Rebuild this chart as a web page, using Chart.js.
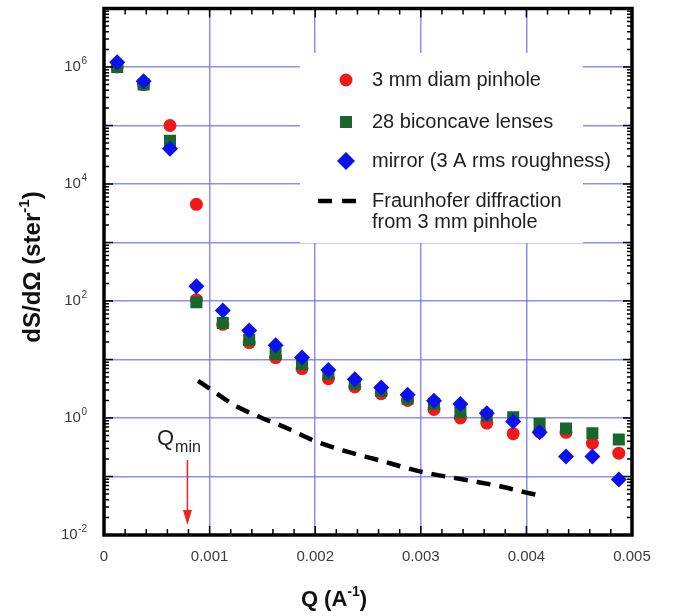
<!DOCTYPE html>
<html>
<head>
<meta charset="utf-8">
<script src="https://cdn.jsdelivr.net/npm/chart.js@4/dist/chart.umd.min.js"></script>
<style>
  html, body { margin: 0; padding: 0; background: #fff; }
  #wrap { width: 675px; height: 616px; }
</style>
</head>
<body>
<div id="wrap"><canvas id="chart" width="675" height="616"></canvas></div>
<script>
// Q positions of the measured points (A^-1)
const qPoints = [0.000125, 0.000375, 0.000625, 0.000875, 0.001125, 0.001375, 0.001625, 0.001875,
  0.002125, 0.002375, 0.002625, 0.002875, 0.003125, 0.003375, 0.003625, 0.003875,
  0.004125, 0.004375, 0.004625, 0.004875];

// pinhole has one extra point at Q = 0.000875
const pinholeQ = [0.000125, 0.000375, 0.000625, 0.000875, 0.000875, 0.001125, 0.001375, 0.001625,
  0.001875, 0.002125, 0.002375, 0.002625, 0.002875, 0.003125, 0.003375, 0.003625,
  0.003875, 0.004125, 0.004375, 0.004625, 0.004875];
const pinhole = [1.0e6, 5.0e5, 1.0e5, 4.5e3, 105, 40, 19.5, 10.8, 7.0, 4.7, 3.4, 2.6, 2.0, 1.4,
  1.0, 0.82, 0.54, 0.58, 0.57, 0.37, 0.25];

const lenses = [1.0e6, 5.0e5, 5.5e4, 95, 42, 21.5, 12.4, 8.4, 5.7, 3.85, 2.9, 2.14, 1.76, 1.25,
  1.1, 1.03, 0.8, 0.66, 0.55, 0.43];

const mirror = [1.2e6, 5.7e5, 4.0e4, 178, 69, 31.4, 17.5, 10.8, 6.6, 4.6, 3.33, 2.5, 1.98, 1.74,
  1.2, 0.87, 0.57, 0.22, 0.22, 0.089];

// Fraunhofer diffraction curve
const fraunQ = [0.00089, 0.00102, 0.00125, 0.00148, 0.00175, 0.00198, 0.00226, 0.00258,
  0.00301, 0.00343, 0.00375, 0.00400, 0.00416];
const fraun = [4.3, 3.0, 1.6, 1.03, 0.65, 0.415, 0.28, 0.195, 0.12, 0.087, 0.068, 0.053, 0.046];

const xTickLabels = ['0', '0.001', '0.002', '0.003', '0.004', '0.005'];
const xTickValues = [0, 0.001, 0.002, 0.003, 0.004, 0.005];
const yExponents = [-2, 0, 2, 4, 6];
const qMin = 0.00079;

const legendItems = [
  { text: ['3 mm diam pinhole'], style: 'circle', color: '#f21818' },
  { text: ['28 biconcave lenses'], style: 'rect', color: '#17662c' },
  { text: ['mirror (3 A rms roughness)'], style: 'diamond', color: '#0a10ee' },
  { text: ['Fraunhofer diffraction', 'from 3 mm pinhole'], style: 'dash', color: '#000' },
];

const toXY = (xs, ys) => xs.map((x, i) => ({ x: x, y: ys[i] }));
const FONT = '"Liberation Sans", Arial, Helvetica, sans-serif';

function drawMarker(ctx, style, color, x, y) {
  ctx.save();
  ctx.fillStyle = color;
  ctx.beginPath();
  if (style === 'circle') {
    ctx.arc(x, y, 6.5, 0, Math.PI * 2);
  } else if (style === 'rect') {
    ctx.rect(x - 6, y - 6, 12, 12);
  } else if (style === 'diamond') {
    ctx.moveTo(x, y - 9); ctx.lineTo(x + 9, y); ctx.lineTo(x, y + 9); ctx.lineTo(x - 9, y);
    ctx.closePath();
  }
  ctx.fill();
  ctx.restore();
}

const decorations = {
  id: 'decorations',
  beforeDatasetsDraw(chart) {
    const ctx = chart.ctx;
    // legend box inside plot
    ctx.save();
    ctx.fillStyle = '#fff';
    ctx.fillRect(300, 53, 283, 190);
    ctx.font = '20px ' + FONT;
    ctx.fillStyle = '#1e1e1e';
    ctx.textBaseline = 'middle';
    const rows = [80, 122, 161, 201];
    legendItems.forEach((it, i) => {
      const y = rows[i];
      if (it.style === 'dash') {
        ctx.strokeStyle = '#000';
        ctx.lineWidth = 4.5;
        ctx.setLineDash([14, 10]);
        ctx.beginPath(); ctx.moveTo(318, y); ctx.lineTo(362, y); ctx.stroke();
        ctx.setLineDash([]);
      } else {
        drawMarker(ctx, it.style, it.color, 346, y);
      }
      it.text.forEach((t, j) => ctx.fillText(t, 372, y + j * 21));
    });
    ctx.restore();
  },
  afterDraw(chart) {
    const ctx = chart.ctx;
    const a = chart.chartArea;
    const xs = chart.scales.x, ys = chart.scales.y;
    ctx.save();
    ctx.strokeStyle = '#000';
    // minor/major ticks, y (log)
    ctx.lineWidth = 1.5;
    for (let d = -2; d <= 6; d++) {
      for (let m = 1; m <= 9; m++) {
        const py = ys.getPixelForValue(m * Math.pow(10, d));
        const len = m === 1 ? 9 : 5;
        ctx.beginPath();
        ctx.moveTo(a.left, py); ctx.lineTo(a.left + len, py);
        ctx.moveTo(a.right, py); ctx.lineTo(a.right - len, py);
        ctx.stroke();
      }
    }
    // x ticks
    for (let k = 0; k <= 25; k++) {
      const px = xs.getPixelForValue(k * 0.0002);
      const len = k % 5 === 0 ? 9 : 6;
      ctx.beginPath();
      ctx.moveTo(px, a.bottom); ctx.lineTo(px, a.bottom - len);
      ctx.moveTo(px, a.top); ctx.lineTo(px, a.top + len);
      ctx.stroke();
    }
    // frame
    ctx.lineWidth = 3.5;
    ctx.strokeRect(a.left, a.top, a.right - a.left, a.bottom - a.top);

    // y tick labels 10^n
    ctx.fillStyle = '#3a3a3a';
    ctx.textBaseline = 'middle';
    yExponents.forEach((e) => {
      const py = ys.getPixelForValue(Math.pow(10, e));
      const sup = String(e);
      ctx.font = '10px ' + FONT;
      const sw = ctx.measureText(sup).width;
      ctx.textAlign = 'left';
      ctx.fillText(sup, 87 - sw, py - 6);
      ctx.font = '15px ' + FONT;
      ctx.textAlign = 'right';
      ctx.fillText('10', 87 - sw - 0.5, py);
    });
    // x tick labels
    ctx.textAlign = 'center';
    ctx.font = '15px ' + FONT;
    xTickValues.forEach((v, i) => {
      ctx.fillText(xTickLabels[i], xs.getPixelForValue(v), 557);
    });

    // axis titles
    ctx.fillStyle = '#111';
    ctx.font = 'bold 22px ' + FONT;
    ctx.textAlign = 'left';
    ctx.textBaseline = 'alphabetic';
    const xt1 = 'Q (A', xt2 = '-1', xt3 = ')';
    const w1 = ctx.measureText(xt1).width;
    ctx.font = 'bold 14px ' + FONT;
    const w2 = ctx.measureText(xt2).width;
    ctx.font = 'bold 22px ' + FONT;
    const w3 = ctx.measureText(xt3).width;
    let sx = 334 - (w1 + w2 + w3) / 2;
    ctx.fillText(xt1, sx, 606);
    ctx.font = 'bold 14px ' + FONT;
    ctx.fillText(xt2, sx + w1, 596);
    ctx.font = 'bold 22px ' + FONT;
    ctx.fillText(xt3, sx + w1 + w2, 606);

    ctx.save();
    ctx.translate(40, 267);
    ctx.rotate(-Math.PI / 2);
    const yt1 = 'dS/d\u03A9 (ster', yt2 = '-1', yt3 = ')';
    ctx.font = 'bold 24px ' + FONT;
    const v1 = ctx.measureText(yt1).width;
    ctx.font = 'bold 15px ' + FONT;
    const v2 = ctx.measureText(yt2).width;
    ctx.font = 'bold 24px ' + FONT;
    const v3 = ctx.measureText(yt3).width;
    let sy = -(v1 + v2 + v3) / 2;
    ctx.fillText(yt1, sy, 0);
    ctx.font = 'bold 15px ' + FONT;
    ctx.fillText(yt2, sy + v1, -11);
    ctx.font = 'bold 24px ' + FONT;
    ctx.fillText(yt3, sy + v1 + v2, 0);
    ctx.restore();

    // Q_min annotation with red arrow
    const qx = xs.getPixelForValue(qMin);
    ctx.fillStyle = '#222';
    ctx.font = '22px ' + FONT;
    ctx.textAlign = 'left';
    ctx.fillText('Q', 157, 445);
    const qw = ctx.measureText('Q').width;
    ctx.font = '16px ' + FONT;
    ctx.fillText('min', 157 + qw + 1, 452);
    ctx.strokeStyle = '#ee2222';
    ctx.fillStyle = '#ee2222';
    ctx.lineWidth = 1.5;
    ctx.beginPath(); ctx.moveTo(qx, 460); ctx.lineTo(qx, 512); ctx.stroke();
    ctx.beginPath(); ctx.moveTo(qx - 4.5, 510); ctx.lineTo(qx + 4.5, 510); ctx.lineTo(qx, 525);
    ctx.closePath(); ctx.fill();
    ctx.restore();
  }
};

const gridColor = 'rgba(105, 105, 235, 0.75)';

new Chart(document.getElementById('chart'), {
  type: 'scatter',
  data: {
    datasets: [
      {
        label: 'mirror (3 A rms roughness)',
        data: toXY(qPoints, mirror),
        pointStyle: 'rectRot',
        pointRadius: 8,
        backgroundColor: '#0a10ee',
        borderColor: '#0a10ee',
        borderWidth: 0,
        order: 1,
      },
      {
        label: '28 biconcave lenses',
        data: toXY(qPoints, lenses),
        pointStyle: 'rect',
        pointRadius: 8.5,
        backgroundColor: '#17662c',
        borderColor: '#17662c',
        borderWidth: 0,
        order: 2,
      },
      {
        label: '3 mm diam pinhole',
        data: toXY(pinholeQ, pinhole),
        pointStyle: 'circle',
        pointRadius: 6.5,
        backgroundColor: '#f21818',
        borderColor: '#f21818',
        borderWidth: 0,
        order: 3,
      },
      {
        label: 'Fraunhofer diffraction from 3 mm pinhole',
        type: 'line',
        data: toXY(fraunQ, fraun),
        showLine: true,
        borderColor: '#000',
        borderWidth: 4.5,
        borderDash: [14, 9],
        pointRadius: 0,
        cubicInterpolationMode: 'monotone',
        fill: false,
        order: 4,
      },
    ],
  },
  options: {
    responsive: false,
    animation: false,
    devicePixelRatio: 1,
    layout: { padding: { left: 104, right: 43, top: 5, bottom: 81 } },
    plugins: {
      legend: { display: false },
      tooltip: { enabled: false },
    },
    scales: {
      x: {
        type: 'linear',
        min: 0,
        max: 0.005,
        ticks: { display: false, stepSize: 0.001 },
        grid: { color: gridColor, lineWidth: 1.5, drawTicks: false },
        border: { display: false },
      },
      y: {
        type: 'logarithmic',
        min: 1e-2,
        max: 1e7,
        afterBuildTicks: (scale) => {
          const t = [];
          for (let e = -2; e <= 7; e++) t.push({ value: Math.pow(10, e) });
          scale.ticks = t;
        },
        ticks: { display: false },
        grid: { color: gridColor, lineWidth: 1.5, drawTicks: false },
        border: { display: false },
      },
    },
  },
  plugins: [decorations],
});
</script>
</body>
</html>
